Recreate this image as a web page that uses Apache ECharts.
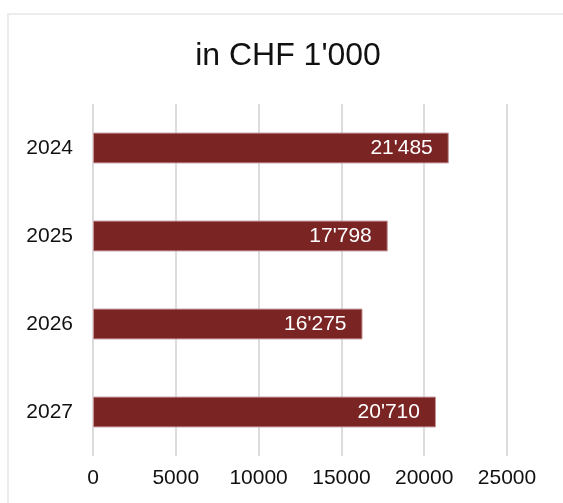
<!DOCTYPE html>
<html>
<head>
<meta charset="utf-8">
<script src="https://cdn.jsdelivr.net/npm/echarts@6/dist/echarts.min.js"></script>
<style>
  html, body { margin: 0; padding: 0; background: #fff; }
  #chart { width: 563px; height: 503px; }
</style>
</head>
<body>
<div id="chart"></div>
<script>
const years = ['2024', '2025', '2026', '2027']
const values = [21485, 17798, 16275, 20710]
const xTicks = [0, 5000, 10000, 15000, 20000, 25000]

const fmt = (v) => String(v).replace(/\B(?=(\d{3})+(?!\d))/g, "'")

const chart = echarts.init(document.getElementById('chart'))
chart.setOption({
  backgroundColor: '#fff',
  textStyle: { fontFamily: 'Liberation Sans, Arial, sans-serif' },
  graphic: [{
    type: 'rect',
    shape: { x: 8, y: 14, width: 700, height: 600 },
    style: { fill: 'none', stroke: '#ececec', lineWidth: 2 },
    silent: true
  }],
  title: {
    text: "in CHF 1'000",
    left: 283,
    top: 35,
    textAlign: 'center',
    textStyle: { fontSize: 32, fontWeight: 'normal', color: '#111', fontFamily: 'Liberation Sans, Arial, sans-serif' }
  },
  grid: { left: 93, right: 56, top: 104, bottom: 47 },
  xAxis: {
    type: 'value',
    min: xTicks[0],
    max: xTicks[xTicks.length - 1],
    interval: 5000,
    axisLine: { show: false },
    axisTick: { show: false },
    axisLabel: { fontSize: 21, color: '#111', margin: 12, formatter: (v) => String(v) },
    splitLine: { lineStyle: { color: '#dcdcdc', width: 2 } }
  },
  yAxis: {
    type: 'category',
    data: years,
    inverse: true,
    axisLine: { show: false },
    axisTick: { show: false },
    axisLabel: { fontSize: 21, color: '#111', margin: 20 }
  },
  series: [{
    type: 'bar',
    data: values,
    barWidth: '35%',
    itemStyle: { color: '#7a2424', borderColor: '#c49494', borderWidth: 1 },
    label: {
      show: true,
      position: 'insideRight',
      distance: 16,
      color: '#fff',
      fontSize: 21,
      formatter: (p) => fmt(p.value)
    }
  }]
})
</script>
</body>
</html>
